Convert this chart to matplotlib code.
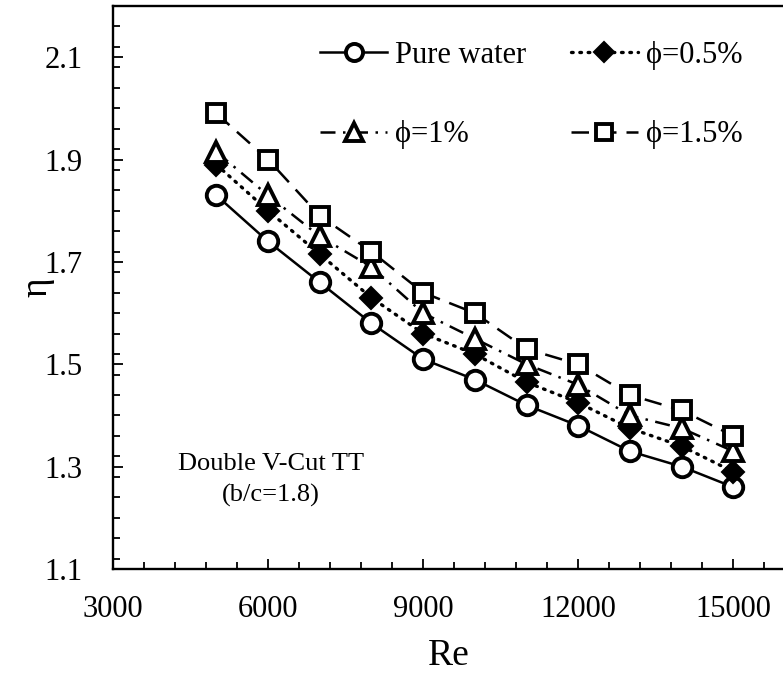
import matplotlib
matplotlib.use('Agg')
import matplotlib.pyplot as plt
from matplotlib.ticker import MultipleLocator

plt.rcParams['font.family'] = ['Liberation Serif', 'DejaVu Serif']

# Dados
re = [5000, 6000, 7000, 8000, 9000, 10000, 11000, 12000, 13000, 14000, 15000]
pure_water = [1.83, 1.74, 1.66, 1.58, 1.51, 1.47, 1.42, 1.38, 1.33, 1.30, 1.26]
phi_05 = [1.89, 1.80, 1.715, 1.63, 1.56, 1.52, 1.465, 1.425, 1.375, 1.34, 1.29]
phi_1 = [1.915, 1.83, 1.75, 1.69, 1.60, 1.55, 1.50, 1.46, 1.40, 1.375, 1.33]
phi_15 = [1.99, 1.90, 1.79, 1.72, 1.64, 1.60, 1.53, 1.50, 1.44, 1.41, 1.36]

labels = ['Pure water', 'ϕ=0.5%', 'ϕ=1%', 'ϕ=1.5%']

W, H = 783, 677
fig = plt.figure(figsize=(W / 100, H / 100), dpi=100)
ax = fig.add_axes([113 / W, (H - 569) / H, 672 / W, (569 - 6) / H])

lw = 1.8
mew = 2.8
h1, = ax.plot(re, pure_water, color='black', lw=lw, ls='-', marker='o', ms=14,
              mfc='white', mec='black', mew=mew, label=labels[0])
h2, = ax.plot(re, phi_05, color='black', lw=2.4, ls=(0, (0.5, 2.0)), dash_capstyle='round',
              marker='D', ms=11, mfc='black', mec='black', mew=1.5, label=labels[1])
h3, = ax.plot(re, phi_1, color='black', lw=lw, ls=(0, (6, 3, 1, 3)),
              marker='^', ms=14, mfc='white', mec='black', mew=mew, label=labels[2])
h4, = ax.plot(re, phi_15, color='black', lw=lw, ls=(0, (7, 4)),
              marker='s', ms=13, mfc='white', mec='black', mew=mew, label=labels[3])

ax.set_xlim(3000, 16000)
ax.set_ylim(1.1, 2.2)
ax.xaxis.set_major_locator(MultipleLocator(3000))
ax.xaxis.set_minor_locator(MultipleLocator(600))
ax.set_yticks([1.1, 1.3, 1.5, 1.7, 1.9, 2.1])
ax.yaxis.set_minor_locator(MultipleLocator(0.04))

for s in ['left', 'bottom', 'top']:
    ax.spines[s].set_linewidth(1.7)
ax.spines['right'].set_visible(False)

ax.tick_params(which='both', direction='in', top=False, right=False, width=1.3)
ax.tick_params(which='major', length=7)
ax.tick_params(which='minor', length=5)
ax.tick_params(axis='x', labelsize=22, pad=19)
ax.tick_params(axis='y', labelsize=22, pad=22)

ax.set_xlabel('Re', fontsize=27, labelpad=10)
ax.set_ylabel('η', fontsize=27, labelpad=-7)

ax.text(6060, 1.274, 'Double V-Cut TT\n(b/c=1.8)', fontsize=19, ha='center',
        va='center', linespacing=1.55)

# ordem por linhas: Pure water, 0.5% / 1%, 1.5%
ax.legend([h1, h3, h2, h4], [labels[0], labels[2], labels[1], labels[3]],
          loc='upper left', bbox_to_anchor=(0.29, 0.96), ncol=2, frameon=False,
          fontsize=22, handlelength=2.2, handletextpad=0.25, columnspacing=1.46,
          labelspacing=1.66, markerscale=0.88, borderaxespad=0)

fig.savefig('out.png', dpi=100)
